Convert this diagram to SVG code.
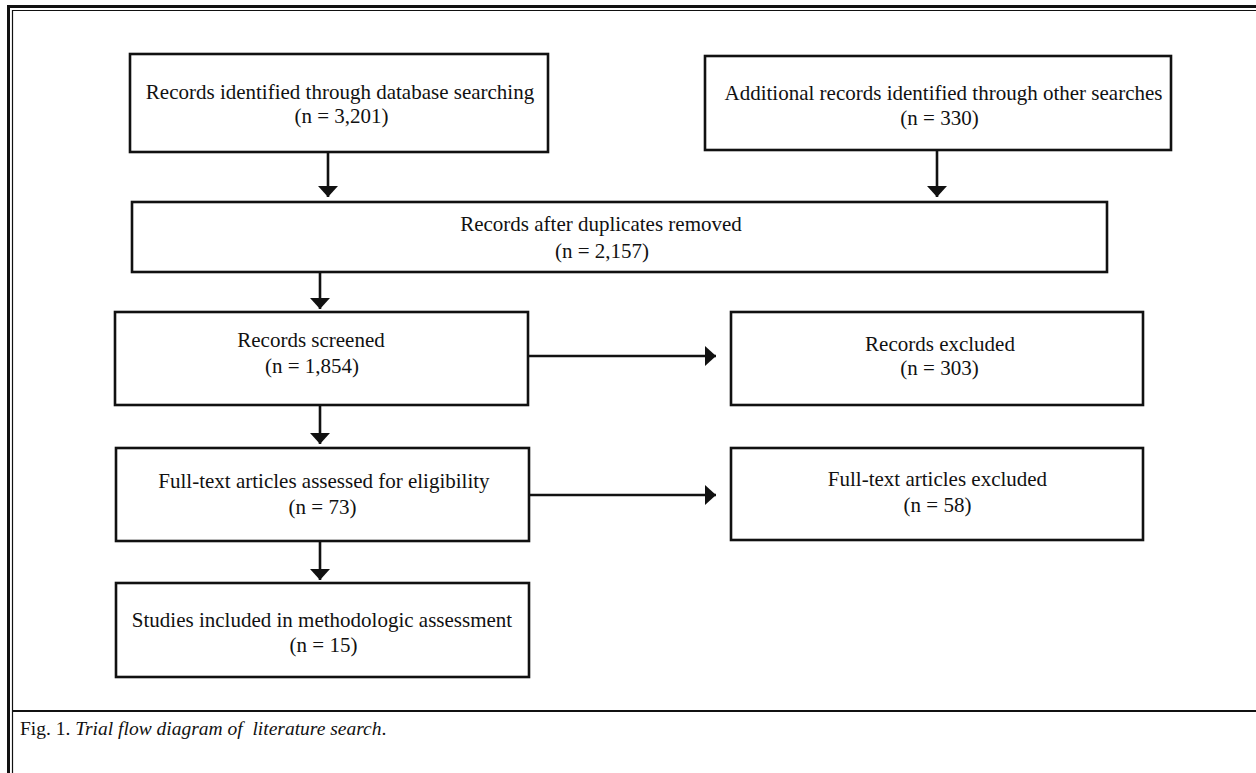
<svg xmlns="http://www.w3.org/2000/svg" width="1256" height="773" viewBox="0 0 1256 773">
<style>
.box{fill:#fff;stroke:#111;stroke-width:2.6}
.t{font-family:"Liberation Serif","Times New Roman",serif;font-size:21px;fill:#111;text-anchor:middle}
.ln{stroke:#111;stroke-width:2.6;fill:none}
.cap{font-family:"Liberation Serif","Times New Roman",serif;font-size:19.5px;fill:#111}
</style>
<defs>
<marker id="ah" viewBox="0 0 11 20" refX="11" refY="10" markerWidth="11" markerHeight="20" markerUnits="userSpaceOnUse" orient="auto">
<path d="M0,0 L11,10 L0,20 Z" fill="#111"/>
</marker>
</defs>
<rect width="1256" height="773" fill="#fff"/>
<g id="frame">
<path d="M8.5,773 V6.5 H1256" fill="none" stroke="#111" stroke-width="3"/>
<path d="M12.5,773 V10.5 H1256" fill="none" stroke="#111" stroke-width="1.2"/>
<path d="M12,711 H1256" stroke="#111" stroke-width="2.2"/>
</g>
<g id="connectors">
<path class="ln" d="M328,152 V197" marker-end="url(#ah)"/>
<path class="ln" d="M937,150 V197" marker-end="url(#ah)"/>
<path class="ln" d="M320,272 V309" marker-end="url(#ah)"/>
<path class="ln" d="M528,356 H716" marker-end="url(#ah)"/>
<path class="ln" d="M320,405 V444" marker-end="url(#ah)"/>
<path class="ln" d="M529,495 H716" marker-end="url(#ah)"/>
<path class="ln" d="M320,541 V580" marker-end="url(#ah)"/>
</g>
<g id="n1"><rect class="box" x="130" y="54" width="418" height="98"/>
<text class="t" x="340" y="99">Records identified through database searching</text>
<text class="t" x="341.5" y="123">(n = 3,201)</text></g>
<g id="n2"><rect class="box" x="705" y="56" width="466" height="94"/>
<text class="t" x="943.5" y="100">Additional records identified through other searches</text>
<text class="t" x="939.5" y="125">(n = 330)</text></g>
<g id="n3"><rect class="box" x="132" y="202" width="975" height="70"/>
<text class="t" x="601" y="231">Records after duplicates removed</text>
<text class="t" x="602" y="258">(n = 2,157)</text></g>
<g id="n4"><rect class="box" x="115" y="312" width="413" height="93"/>
<text class="t" x="311" y="347">Records screened</text>
<text class="t" x="312" y="373">(n = 1,854)</text></g>
<g id="n5"><rect class="box" x="731" y="312" width="412" height="93"/>
<text class="t" x="940" y="351">Records excluded</text>
<text class="t" x="939.5" y="375">(n = 303)</text></g>
<g id="n6"><rect class="box" x="116" y="448" width="413" height="93"/>
<text class="t" x="324" y="488">Full-text articles assessed for eligibility</text>
<text class="t" x="322.5" y="514">(n = 73)</text></g>
<g id="n7"><rect class="box" x="731" y="448" width="412" height="92"/>
<text class="t" x="937.5" y="486">Full-text articles excluded</text>
<text class="t" x="937.5" y="512">(n = 58)</text></g>
<g id="n8"><rect class="box" x="116" y="583" width="413" height="94"/>
<text class="t" x="322" y="627">Studies included in methodologic assessment</text>
<text class="t" x="323.5" y="652">(n = 15)</text></g>
<text class="cap" x="20" y="735" xml:space="preserve">Fig. 1. <tspan font-style="italic">Trial flow diagram of  literature search</tspan>.</text>
</svg>
